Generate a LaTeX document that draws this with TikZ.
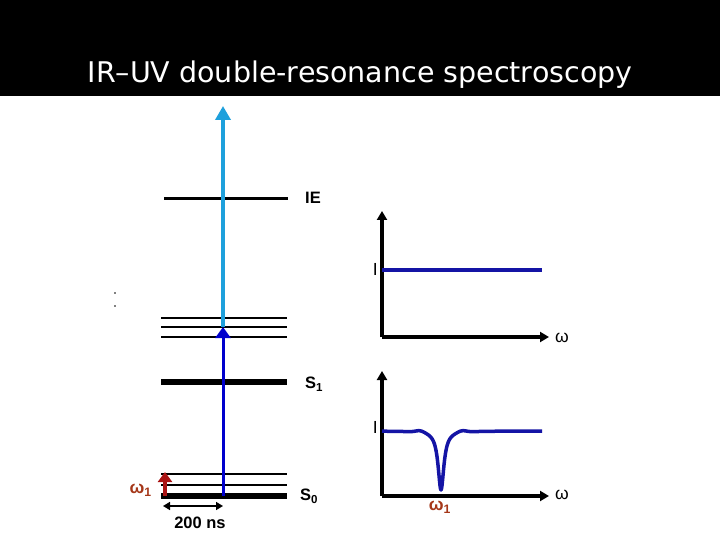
\documentclass[tikz,border=0pt]{standalone}
\usepackage{fontspec}
\setmainfont{Liberation Sans}
\newfontfamily\titlefont{DejaVu Sans}
\usetikzlibrary{arrows.meta}
\definecolor{lightblue}{RGB}{30,160,220}
\definecolor{uvblue}{RGB}{0,0,205}
\definecolor{navy}{RGB}{20,20,165}
\definecolor{irred}{RGB}{170,20,20}
\definecolor{labred}{RGB}{165,55,25}
\tikzset{
  level/.style={line width=2.2pt, black},
  thicklevel/.style={line width=6pt, black},
  lab/.style={font=\fontsize{16.5}{18}\selectfont\bfseries, inner sep=0pt},
  om/.style={font=\fontsize{17.5}{18}\selectfont, inner sep=0pt},
  axis/.style={line width=3.2pt, black, -{Triangle[length=9pt,width=10pt]}},
  signal/.style={line width=3.5pt, navy},
}
\begin{document}
\begin{tikzpicture}[x=1pt,y=-1pt]
\useasboundingbox (0,0) rectangle (720,540);
\fill[white] (0,0) rectangle (720,540);
\fill[black] (0,0) rectangle (720,96);
\node[text=white, font=\titlefont\fontsize{28.5}{30}\selectfont, inner sep=0pt] (title) at (360,75) {IR–UV double-resonance spectroscopy};

% tiny dots
\fill (115,293) circle (0.8pt);
\fill (115,306) circle (0.8pt);

% levels
\draw[line width=3pt] (164,199) -- (288,199) coordinate (ieend);
\node[lab, anchor=west] (ie) at (305,198) {IE};
\draw[line width=2.6pt] (161,318) -- (287,318);
\draw[level] (161,327) -- (287,327);
\draw[level] (161,337) -- (287,337);
\draw[thicklevel] (161,382) -- (287,382);
\node[lab, anchor=west] (s1) at (305,384) {S\textsubscript{1}};
\draw[level] (161,474) -- (287,474);
\draw[level] (161,485) -- (287,485);
\draw[thicklevel] (161,496) coordinate (s0l) -- (287,496);
\node[lab, anchor=west] (s0) at (300,496) {S\textsubscript{0}};

% arrows
\coordinate (uvtop) at (223,327);
\coordinate (uvbot) at (223,496);
\coordinate (iontop) at (223,106);
\draw[line width=4pt, lightblue, -{Triangle[length=14pt,width=15pt]}] (uvtop) -- (iontop);
\draw[line width=3pt, uvblue, -{Triangle[length=11pt,width=15pt]}] (uvbot) -- (uvtop);
\coordinate (irbot) at (165,496);
\coordinate (irtop) at (165,472);
\draw[line width=4pt, irred, -{Triangle[length=10pt,width=14pt]}] (irbot) -- (irtop);
\node[om, text=labred, anchor=east] (w1) at (152,490) {\bfseries ω\textsubscript{1}};
\coordinate (tl) at (163,506);
\coordinate (tr) at (223,506);
\draw[line width=1.6pt, {Triangle[length=7pt,width=8pt]}-{Triangle[length=7pt,width=8pt]}] (tl) -- (tr);
\node[lab] (ns) at (200,523) {200 ns};

% graph 1
\coordinate (o1) at (382,337);
\draw[axis] (o1) -- (382,211);
\draw[axis] (o1) -- (549,337);
\node[om, anchor=east] (i1) at (378,269) {I};
\node[om] (w1a) at (562,338) {ω};
\draw[signal] (382,270) -- (542,270);

% graph 2
\coordinate (o2) at (382,496);
\draw[axis] (o2) -- (382,371);
\draw[axis] (o2) -- (549,496);
\node[om, anchor=east] (i2) at (378,427) {I};
\node[om] (w2) at (562,495) {ω};
\draw[signal, line join=round] plot[domain=382:542, samples=321] (\x, {431 + 59/(1+((\x-441)/3.5)^2) - 1.8*exp(-((abs(\x-441)-21)/6)^2)});
\node[om, text=labred] (w1b) at (440,507) {\bfseries ω\textsubscript{1}};
\end{tikzpicture}
\end{document}
